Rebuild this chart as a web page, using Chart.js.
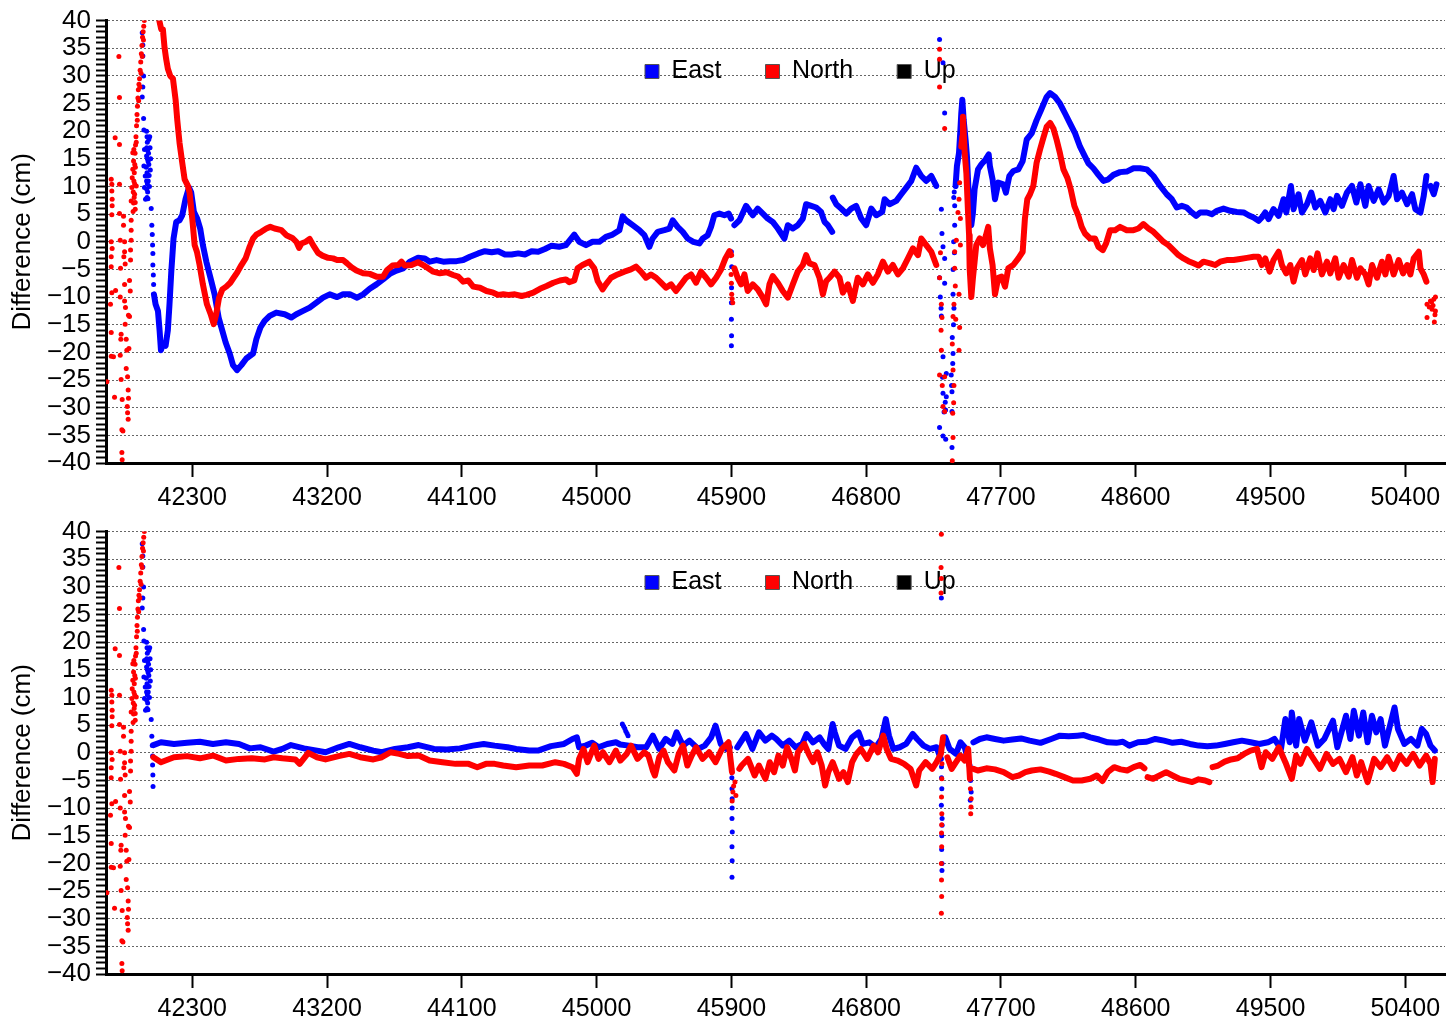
<!DOCTYPE html>
<html>
<head>
<meta charset="utf-8">
<script src="https://cdn.jsdelivr.net/npm/chart.js@4.4.0/dist/chart.umd.min.js"></script>
<style>
  html, body { margin: 0; padding: 0; background: #fff; }
  .panel { position: absolute; left: 0; width: 1449px; height: 511px; }
</style>
</head>
<body>
<div class="panel" style="top:0"><canvas id="topChart" width="1449" height="511"></canvas></div>
<div class="panel" style="top:511px"><canvas id="bottomChart" width="1449" height="511"></canvas></div>
<script>
// axis ticks
var xTicks = [42300, 43200, 44100, 45000, 45900, 46800, 47700, 48600, 49500, 50400];
var yTicks = [];
for (var v = -40; v <= 40; v++) yTicks.push(v);
var seriesNames = ['East', 'North', 'Up'];

// ---- start-up epochs, same in both panels ----
var earlyNorthDots = [[41730,-25.3],[41754,-11.3],[41759,11.3],[41763,10.4],[41763,9.2],[41765,7.7],[41765,6.5],[41763,4.9],[41759,0],[41765,-1.2],[41759,-2.7],[41759,-4.5],[41763,-9.2],[41759,-16.4],[41759,-20.7],[41774,-20.8],[41781,-28.1],[41785,18.8],[41788,-8.8],[41810,33.5],[41814,26.1],[41814,17.6],[41814,10.4],[41814,5.1],[41819,0.3],[41821,-4.8],[41819,-10],[41825,-16.7],[41823,-17.6],[41819,-20.5],[41825,-24.9],[41832,-28.5],[41830,-34],[41837,-34.2],[41830,-38.1],[41832,-39.4],[41841,4.6],[41841,3],[41848,0],[41848,-1.8],[41843,-2.7],[41852,-4],[41848,-7.7],[41848,-10.7],[41854,-11.9],[41852,-14.9],[41859,-17.6],[41863,-19.6],[41859,-22.9],[41868,-24.4],[41866,-29.8],[41868,-30.9],[41872,-26.8],[41872,-32.1],[41874,-28.3],[41874,-13.3],[41877,-19.3],[41881,-13.5],[41881,-7],[41886,-8.9],[41888,-3.3],[41888,-1.5],[41892,0.3],[41892,2.1],[41892,3.9],[41892,7.4],[41897,9.8],[41899,11.6],[41903,13.1],[41908,14.6],[41903,16.1],[41910,16.7],[41915,8.6],[41919,5.9],[41919,7.1],[41926,10.1]];
var earlyNorthRise = [[41905,5.5],[41908,7],[41906,9],[41910,11],[41913,12.5],[41916,14],[41918,16],[41921,17.5],[41924,19],[41928,21],[41931,23],[41934,24.5],[41937,26],[41940,27.5],[41944,28.5],[41948,29.5],[41952,31],[41956,32.5],[41960,34],[41964,35.5],[41968,37],[41972,38],[41976,39],[41980,40],[41912,8],[41915,10.5],[41920,13.5],[41926,18],[41933,22],[41942,25.5],[41950,28],[41958,30.5],[41966,33.5],[41974,36.5]];
var earlyEastDots = [[41966,37.8],[41970,35.6],[41970,33.6],[41975,30],[41970,28],[41966,26.2],[41975,22.3],[41977,20.2],[41981,16.7],[41977,13.7],[41986,11.9],[41981,9.8],[41988,7.7],[41995,20],[41998,19],[42000,18],[41996,17],[42002,16.5],[41995,15.5],[42000,15],[42005,14.5],[41993,13.5],[41998,12.5],[42003,12],[41995,11],[42000,10.5],[41996,9.5],[42002,9],[41998,8],[42004,7.8],[42008,16],[42010,14],[42012,12],[42014,10],[42016,19],[42018,17],[42006,11],[42010,18.5],[42020,13],[42022,15],[42026,6],[42030,3],[42033,1.3],[42035,-0.6]];

// ---- top panel ----
var topEastDrop = [[42037,-2.1],[42037,-4.2],[42040,-6],[42042,-7.7]];
var topEastA = [[42044,-9.5],[42055,-11.3],[42071,-12.5],[42082,-16.1],[42091,-19.6],[42104,-18.5],[42122,-18.8],[42137,-16],[42148,-11.3],[42160,-5.4],[42175,0.6],[42193,3.6],[42215,3.9],[42233,4.8],[42255,7.7],[42278,9.8],[42293,8.9],[42311,5.4],[42333,4.2],[42353,2.4],[42371,-0.6],[42394,-3.6],[42427,-7.1],[42449,-9.5],[42476,-13.7],[42501,-16.1],[42523,-18.2],[42550,-20.2],[42572,-22.3],[42599,-23.2],[42628,-22.3],[42661,-21.1],[42706,-20.2],[42728,-17.6],[42755,-15.5],[42783,-14.3],[42817,-13.4],[42861,-12.8],[42917,-13.1],[42962,-13.7],[42995,-13.1],[43040,-12.5],[43084,-11.9],[43129,-11],[43173,-10.1],[43218,-9.5],[43267,-10],[43307,-9.5],[43352,-9.5],[43401,-10.1],[43441,-9.5],[43485,-8.5],[43530,-7.7],[43574,-6.8],[43619,-5.8],[43664,-5.2],[43708,-4.8],[43753,-3.6],[43808,-2.9],[43853,-3],[43886,-3.6],[43931,-3.3],[43976,-3.6],[44020,-3.5],[44065,-3.5],[44109,-3.3],[44154,-2.7],[44209,-2.1],[44254,-1.7],[44299,-1.9],[44343,-1.7],[44388,-2.3],[44432,-2.3],[44477,-2.1],[44521,-2.3],[44566,-1.7],[44610,-1.8],[44655,-1.3],[44700,-0.7],[44750,-0.9],[44795,-0.6],[44851,1.3],[44884,0],[44929,-0.6],[44973,0],[45018,0],[45062,0.9],[45107,1.3],[45152,2.1],[45174,4.6],[45196,3.9],[45241,3],[45285,2.1],[45319,1.2],[45352,-0.9],[45374,0.6],[45408,1.8],[45452,2.1],[45486,2.4],[45508,3.9],[45541,2.7],[45575,1.8],[45608,0.6],[45646,0],[45686,-0.3],[45709,0.6],[45742,1.2],[45764,2.7],[45786,4.8],[45820,5.1],[45853,4.8],[45882,5.1],[45898,4.2]];
var topEastSpike = [[45900,-1.8],[45902,-4.5],[45901,-8.3],[45900,-11],[45900,-14],[45901,-17],[45900,-18.8]];
var topEastB = [[45920,3],[45954,3.9],[45998,6.5],[46043,4.8],[46076,6],[46110,5.1],[46143,4.2],[46176,3.6],[46210,2.4],[46254,0.6],[46277,3],[46310,2.4],[46343,3],[46377,4.2],[46399,6.8],[46433,6.5],[46466,6.2],[46499,5.4],[46522,3.6],[46544,3],[46573,1.8]];
var topEastC = [[46577,8],[46600,6.8],[46633,6],[46667,5.1],[46700,6],[46733,6.5],[46767,4.2],[46800,3],[46834,6],[46867,4.8],[46907,5.4],[46923,7.7],[46956,6.8],[47001,7.4],[47034,8.6],[47068,9.8],[47101,11],[47134,13.4],[47168,11.9],[47201,11],[47235,11.9],[47268,10.1]];
var topEastEvent = [[47290,36.6],[47313,32.4],[47324,23.3],[47302,5.9],[47306,1.5],[47313,-0.9],[47324,-3],[47290,-6.5],[47324,-7.5],[47302,-13.4],[47313,-20.8],[47335,-23.8],[47313,-27.4],[47324,-30.7],[47290,-33.6],[47313,-35.1],[47331,-35.7],[47373,-37.2],[47368,-24.1],[47373,-27.1],[47373,-30.7],[47380,-20.2],[47375,-17.3],[47380,-9.5],[47380,-5],[47384,0],[47391,3],[47391,6.5],[47328,-29],[47320,-30.8],[47335,-28],[47370,-26],[47378,-22],[47383,-15],[47386,-12],[47389,-2],[47295,-10],[47300,-12],[47310,-24.5],[47330,-30.4],[47385,8],[47388,9]];
var topEastD = [[47397,10.1],[47406,13.7],[47420,16.1],[47429,20.2],[47435,23.2],[47442,25.7],[47451,22],[47464,18.4],[47473,15.4],[47480,11.3],[47491,5.3],[47502,3],[47513,5.3],[47524,9.5],[47547,13.1],[47569,14],[47598,14.9],[47618,15.8],[47626,13.7],[47644,11.3],[47660,7.7],[47682,10.7],[47716,10.4],[47733,8.9],[47756,11.9],[47782,12.8],[47816,13.1],[47845,14.6],[47872,18.5],[47905,19.6],[47938,22],[47967,23.8],[48005,26.2],[48028,26.9],[48061,26.2],[48094,25],[48128,23.2],[48161,21.4],[48195,19.6],[48228,17.2],[48261,15.4],[48284,14.2],[48317,13.3],[48351,12.1],[48384,11],[48417,11.3],[48451,12.1],[48495,12.6],[48540,12.7],[48585,13.3],[48629,13.3],[48674,13.1],[48718,11.9],[48763,10.1],[48807,8.6],[48841,7.7],[48874,6.2],[48908,6.5],[48941,6.2],[48974,5.3],[49003,4.7],[49030,5.3],[49075,5.3],[49108,5],[49142,5.6],[49186,6],[49231,5.6],[49275,5.4],[49320,5.3],[49353,4.8],[49387,4.4],[49420,3.8],[49442,4.4],[49465,5.3],[49487,4.1],[49520,5.9],[49554,4.7],[49587,7.7],[49605,5.3],[49636,10.1],[49654,5.9],[49687,8.6],[49710,5.3],[49743,6.8],[49772,8.9],[49799,6.2],[49832,7.4],[49866,5.3],[49899,7.7],[49921,5.9],[49944,8.3],[49977,6.5],[50010,8.9],[50044,10.1],[50073,7.1],[50100,10.4],[50133,6.5],[50155,10.1],[50189,7.4],[50222,9.5],[50256,7.1],[50289,8.3],[50322,11.9],[50345,7.7],[50378,8.9],[50412,6.8],[50445,8.6],[50467,5.9],[50501,5.3],[50523,8.3],[50541,11.9]];
var topEastTail = [[50568,10.1],[50590,8.6],[50608,10.4]];

var topNorthA = [[42080,40],[42093,38.4],[42104,38.4],[42115,35.1],[42126,33],[42137,31.3],[42153,30],[42171,29.5],[42189,25.6],[42200,22],[42215,17.9],[42233,14.3],[42249,11.3],[42271,10.1],[42282,8.9],[42300,4.2],[42316,-0.6],[42331,-1.8],[42349,-4.2],[42371,-7.7],[42398,-11.3],[42423,-13.1],[42443,-14.9],[42460,-13.1],[42478,-10.2],[42501,-8.6],[42527,-8.1],[42554,-7.4],[42576,-6.5],[42599,-5.6],[42628,-4.2],[42656,-3],[42683,-0.9],[42706,0.6],[42728,1.3],[42761,1.8],[42795,2.4],[42821,2.7],[42850,2.4],[42895,2.1],[42928,1.2],[42968,0.7],[42995,0],[43013,-1.1],[43029,-0.3],[43058,0],[43084,0.5],[43107,-0.6],[43140,-2],[43169,-2.5],[43207,-2.9],[43240,-3],[43267,-3.3],[43307,-3.3],[43334,-3.9],[43363,-4.6],[43396,-5.2],[43441,-5.7],[43485,-5.8],[43530,-6.3],[43574,-6.3],[43601,-5.1],[43637,-4.3],[43675,-4.2],[43697,-3.6],[43719,-4.3],[43764,-4.2],[43808,-3.7],[43842,-4.2],[43875,-4.8],[43909,-5.4],[43953,-5.7],[43998,-5.5],[44042,-6],[44076,-6.3],[44109,-7.2],[44143,-7],[44176,-8.1],[44221,-8.3],[44265,-8.9],[44310,-9.2],[44343,-9.6],[44377,-9.5],[44410,-9.6],[44454,-9.5],[44499,-9.8],[44532,-9.6],[44577,-9.2],[44622,-8.5],[44666,-8],[44711,-7.4],[44755,-7],[44795,-6.8],[44817,-7.3],[44851,-7],[44873,-4.8],[44906,-4.2],[44951,-3.6],[44984,-4.8],[45007,-7.1],[45040,-8.6],[45062,-7.7],[45096,-6.5],[45140,-5.9],[45185,-5.4],[45229,-5],[45263,-4.5],[45296,-5.4],[45330,-6.5],[45363,-5.9],[45397,-6.5],[45430,-7.4],[45463,-8.3],[45497,-7.7],[45530,-8.9],[45564,-7.7],[45597,-6.5],[45631,-5.9],[45664,-7.4],[45697,-5.4],[45731,-6.5],[45764,-7.7],[45798,-6.5],[45831,-5],[45860,-3],[45887,-1.7],[45898,-2.4]];
var topNorthSpike = [[45898,-5.9],[45902,-9.5],[45909,-11],[45900,-7.5],[45905,-10.3]];
var topNorthB = [[45920,-4.8],[45942,-6.5],[45965,-7.7],[45987,-5.9],[46009,-8.9],[46043,-7.7],[46076,-8.6],[46110,-10.1],[46132,-11.3],[46154,-7.7],[46176,-6.2],[46210,-7.4],[46243,-8.9],[46277,-10.1],[46310,-7.7],[46343,-5.4],[46377,-4.2],[46399,-2.4],[46421,-3.9],[46455,-4.2],[46488,-6.5],[46511,-9.5],[46533,-7.1],[46555,-6.5],[46589,-5.4],[46622,-6.5],[46644,-9.2],[46678,-7.7],[46711,-10.7],[46744,-6.5],[46778,-7.7],[46811,-5.9],[46845,-7.4],[46878,-5.9],[46912,-3.6],[46945,-5.4],[46978,-4.2],[47012,-5.9],[47045,-4.8],[47079,-3],[47112,-1.2],[47146,-2.4],[47168,0.6],[47201,-0.6],[47235,-1.8],[47268,-4.2]];
var topNorthEvent = [[47290,34.8],[47290,33],[47290,28],[47324,20.5],[47290,-6.5],[47302,-11.3],[47306,-13.7],[47302,-19.6],[47290,-24.1],[47324,-24.4],[47313,-29.8],[47324,-30.7],[47380,-23.2],[47384,-29.1],[47380,-35.4],[47375,-39.6],[47375,-18.5],[47380,-13.5],[47386,-11.3],[47391,-4.8],[47391,-1.8],[47402,0.3],[47413,5.3],[47420,7.7],[47424,10.7],[47429,4.2],[47429,-0.6],[47420,-9.5],[47424,-15.5],[47420,-19.6],[47296,-2],[47300,-16],[47308,-26],[47386,-26],[47378,-31],[47395,-8],[47398,-14]];
var topNorthC = [[47435,17.2],[47442,19],[47446,22.6],[47458,16],[47469,12.4],[47480,5.3],[47487,1.2],[47491,-4.8],[47502,-10],[47513,-6.5],[47524,-3.6],[47535,-0.6],[47558,0.6],[47580,-0.6],[47600,1.2],[47615,2.7],[47626,-1.2],[47644,-4.2],[47660,-9.5],[47682,-6.5],[47704,-6.3],[47727,-8.1],[47749,-4.8],[47782,-4.2],[47816,-3],[47845,-1.8],[47860,4.2],[47876,7.7],[47894,8.6],[47916,10.1],[47938,14.3],[47961,16.7],[47983,18.8],[48005,20.8],[48028,21.5],[48050,20.5],[48072,18.4],[48094,16],[48117,13.1],[48143,11.6],[48166,9.5],[48190,6.5],[48217,4.7],[48239,2.7],[48261,1.5],[48295,0.6],[48328,0.6],[48351,-0.9],[48380,-1.5],[48402,-0.3],[48429,2.1],[48462,2.1],[48495,2.7],[48540,2.1],[48585,2.1],[48618,2.4],[48651,3.2],[48685,2.4],[48718,1.8],[48752,0.9],[48785,0],[48818,-0.6],[48852,-1.5],[48885,-2.4],[48919,-3],[48952,-3.5],[48986,-3.9],[49019,-4.3],[49052,-3.6],[49097,-3.9],[49130,-4.2],[49164,-3.6],[49208,-3.3],[49253,-3.3],[49297,-3.1],[49342,-2.9],[49387,-2.7],[49420,-2.7],[49442,-4.2],[49465,-3],[49494,-5.4],[49520,-3.3],[49554,-1.8],[49576,-4.2],[49605,-5.7],[49632,-4.2],[49654,-7.2],[49676,-4.8],[49710,-3.3],[49732,-5.9],[49765,-3],[49788,-5.1],[49814,-2.1],[49843,-5.9],[49877,-3.6],[49899,-5.7],[49932,-3],[49955,-6.5],[49988,-4.2],[50022,-6.3],[50044,-3.3],[50077,-6.5],[50100,-4.8],[50133,-5.9],[50155,-7.7],[50178,-4.2],[50211,-6.5],[50244,-3.6],[50267,-5.9],[50289,-2.7],[50322,-5.9],[50356,-3.3],[50385,-5.7],[50412,-4.2],[50434,-5.9],[50456,-3],[50490,-1.8],[50501,-4.8],[50523,-5.9],[50541,-7.2]];
var topNorthTail = [[50545,-11.3],[50568,-10.7],[50590,-10.4],[50601,-10],[50545,-13.7],[50579,-12.2],[50594,-14.5],[50601,-12.5],[50560,-11.8],[50585,-11.5],[50598,-13.2],[50575,-10.9]];

// ---- bottom panel ----
var bottomEastDrop = [[42035,-2.2],[42037,-4],[42038,-6.1]];
var bottomEastA = [[42040,1.4],[42091,1.9],[42178,1.6],[42265,1.8],[42351,2],[42438,1.6],[42525,1.9],[42612,1.6],[42684,0.8],[42756,1],[42843,0.2],[42901,0.7],[42959,1.4],[43046,0.8],[43133,0.4],[43190,0.1],[43277,1],[43349,1.6],[43422,1],[43509,0.4],[43566,0.1],[43653,0.7],[43740,1],[43812,1.4],[43914,0.7],[44000,0.6],[44087,0.8],[44174,1.3],[44246,1.6],[44319,1.3],[44405,1],[44463,0.7],[44550,0.4],[44608,0.4],[44695,1.2],[44782,1.6],[44839,2.5],[44868,2.8],[44883,1],[44926,1.3],[44970,1.8],[45013,1],[45071,1.6],[45129,1.9],[45158,1.5],[45215,1.3],[45273,1],[45331,1],[45375,3.1],[45418,0.7],[45461,2.5],[45505,1.6],[45534,3.7],[45577,1.3],[45620,2.2],[45678,0.7],[45722,1.3],[45765,2.8],[45794,4.9],[45829,1.6],[45866,0.7],[45890,1]];
var bottomEastBlip = [[45172,5.2],[45180,4.8],[45188,4.4],[45195,3.9],[45203,3.5],[45210,3.1]];
var bottomEastSpike = [[45902,-2.9],[45903,-4.5],[45904,-6.5],[45905,-8.3],[45905,-10],[45904,-11.9],[45906,-14.3],[45904,-17],[45905,-19.5],[45904,-22.5]];
var bottomEastB = [[45939,1],[45997,3.4],[46040,0.7],[46084,3.7],[46127,2.2],[46170,3.1],[46199,2.5],[46243,1.3],[46286,2.2],[46330,1],[46373,1.6],[46402,3.4],[46445,1.9],[46489,2.8],[46518,1.6],[46547,0.7],[46576,5.2],[46590,3.7],[46619,1.3],[46662,0.7],[46706,2.8],[46749,3.7],[46778,1.6],[46821,1.9],[46865,1],[46902,2.5],[46931,6.1],[46952,3.1],[46981,0.7],[47024,1],[47067,1.6],[47111,3.4],[47140,2.5],[47183,1.3],[47226,0.7],[47270,1],[47299,-1.1]];
var bottomEastEvent = [[47302,28],[47303,-2.5],[47303,-4.5],[47305,-6.5],[47302,-9.5],[47307,-11.9],[47307,-13.1],[47305,-15],[47304,-17.5],[47306,-20],[47306,-21.3],[47497,-5],[47501,-7.1],[47495,-8.6]];
var bottomEastC = [[47328,2.8],[47357,0.7],[47400,-0.2],[47429,1.9],[47458,1],[47493,-2.6]];
var bottomEastD = [[47516,1.9],[47559,2.5],[47603,2.8],[47660,2.5],[47718,2.2],[47776,2.4],[47834,2.6],[47892,2.2],[47964,1.8],[48036,2.5],[48094,3.1],[48152,3],[48210,3.1],[48253,3.2],[48297,2.8],[48355,2.4],[48413,1.9],[48470,1.8],[48514,2],[48557,1.3],[48615,1.9],[48673,2],[48731,2.5],[48789,2.2],[48846,1.8],[48904,2],[48962,1.6],[49020,1.3],[49078,1.2],[49136,1.3],[49194,1.6],[49251,1.9],[49309,2.2],[49367,1.9],[49425,1.6],[49483,1.9],[49526,2.5],[49570,0.7],[49599,6.1],[49628,1.9],[49642,7.3],[49671,1.3],[49691,6.1],[49729,2.2],[49772,5.5],[49816,1.3],[49859,2.5],[49917,5.8],[49946,1],[50004,6.7],[50033,2.5],[50056,7.6],[50090,3.1],[50119,7.3],[50148,1.9],[50177,6.7],[50206,3.7],[50235,6.1],[50264,1.3],[50328,8.2],[50351,4.3],[50394,1.6],[50438,2.5],[50481,1.3],[50510,4.3],[50539,3.4],[50568,1.3],[50597,0.4]];

var bottomNorthA = [[42040,-0.8],[42091,-1.7],[42178,-0.8],[42265,-0.6],[42351,-1],[42438,-0.5],[42525,-1.4],[42612,-1.1],[42698,-1],[42785,-1.2],[42843,-0.8],[42901,-1],[42988,-1.2],[43017,-2],[43075,0],[43133,-0.8],[43190,-1.2],[43277,-0.6],[43349,-0.2],[43422,-0.8],[43509,-1.2],[43566,-0.8],[43624,0.1],[43682,-0.2],[43740,-0.6],[43812,-0.5],[43885,-1.4],[43971,-1.7],[44058,-2],[44145,-2],[44203,-2.6],[44261,-2],[44319,-2],[44376,-2.3],[44463,-2.6],[44550,-2.3],[44637,-2.3],[44724,-1.7],[44782,-2],[44839,-2.6],[44868,-3.8],[44883,-1.1],[44912,0.7],[44940,-1.7],[44984,1.3],[45013,-1.1],[45042,0.1],[45085,-1.7],[45129,0.4],[45158,-1.4],[45201,-0.2],[45230,1.3],[45273,-1.1],[45317,0.1],[45346,-0.5],[45375,-3.2],[45389,-4.1],[45418,-0.8],[45447,0.4],[45476,-1.7],[45519,-3.2],[45548,-0.2],[45577,1.3],[45606,-2.3],[45635,-0.5],[45664,1],[45707,-1.1],[45751,0.1],[45794,-1.7],[45837,0.7],[45881,1.9],[45904,-3.5]];
var bottomNorthSpike = [[45905,-8.7],[45910,-7.1],[45915,-6],[45924,-5.3],[45930,-7.7]];
var bottomNorthB = [[45953,-2.9],[45968,-2.3],[46011,-1.1],[46055,-4.1],[46084,-2.3],[46127,-4.7],[46156,-1.7],[46185,-3.5],[46214,-0.5],[46243,-2.3],[46272,1],[46301,-1.1],[46324,-3.2],[46344,0.1],[46387,1.6],[46416,-0.2],[46445,-1.7],[46474,0.1],[46503,-2.3],[46526,-5.9],[46547,-3.5],[46576,-1.7],[46619,-4.7],[46648,-3.5],[46677,-5.3],[46706,-1.7],[46735,-0.2],[46764,0.7],[46807,-1.1],[46850,1.3],[46879,0.1],[46914,3.1],[46937,0.7],[46966,-1.1],[47009,-1.4],[47053,-2],[47096,-2.9],[47134,-5.9],[47154,-3.2],[47197,-1.7],[47241,-2.9],[47270,-1.7],[47299,-0.2],[47313,2.8]];
var bottomNorthEvent = [[47302,39.5],[47300,33.5],[47302,31.5],[47300,28.9],[47306,-2],[47305,-4.7],[47303,-8],[47305,-11],[47304,-13],[47303,-14.5],[47304,-17],[47302,-20],[47303,-23],[47304,-26],[47302,-29],[47496,-6.5],[47501,-8.3],[47500,-9.8],[47498,-11]];
var bottomNorthC = [[47342,-0.8],[47371,-2.9],[47400,-1.7],[47429,-0.5],[47458,-1.4],[47481,0.7],[47493,-4.7]];
var bottomNorthD = [[47516,-2.9],[47545,-3.2],[47603,-2.8],[47660,-3],[47718,-3.5],[47776,-4.4],[47820,-4.1],[47863,-3.5],[47906,-3.2],[47964,-3],[48022,-3.4],[48065,-3.8],[48123,-4.4],[48181,-5],[48239,-5],[48297,-4.7],[48340,-4.1],[48378,-5.1],[48413,-3.5],[48456,-2.6],[48499,-3],[48543,-3.2],[48586,-2.6],[48630,-2.2],[48658,-2.8]];
var bottomNorthE = [[48679,-4.4],[48716,-4.7],[48759,-4.1],[48803,-3.5],[48846,-4.1],[48890,-4.7],[48933,-5],[48977,-5.3],[49020,-4.8],[49063,-5],[49092,-5.3]];
var bottomNorthF = [[49113,-2.6],[49150,-2.3],[49194,-1.6],[49237,-1.2],[49280,-1],[49324,-0.2],[49367,0.4],[49410,0.7],[49440,-2.6],[49468,0.1],[49512,-1.1],[49555,1],[49599,-1.7],[49642,-4.7],[49671,-0.5],[49700,-2],[49743,0.7],[49787,-1.1],[49830,-2.9],[49874,-0.2],[49917,-2],[49960,-1.1],[50004,-3.5],[50047,-0.8],[50076,-4.1],[50105,-1.7],[50148,-5.3],[50192,-1.1],[50235,-2.6],[50279,-0.8],[50322,-2.9],[50365,-0.5],[50409,-2],[50452,-0.2],[50495,-2.3],[50539,-0.5],[50568,-2],[50582,-5.3],[50597,-1.1]];

var BLUE = 'rgb(0, 0, 255)';
var RED = 'rgb(255, 0, 0)';
var FONT = "'Liberation Sans', Arial, Helvetica, sans-serif";

function lineSet(arr, color) {
  return { data: arr, showLine: true, borderColor: color, backgroundColor: color, borderWidth: 6,
    pointRadius: 0, borderJoinStyle: 'round', borderCapStyle: 'round' };
}
function dotSet(arr, color) {
  return { data: arr, showLine: false, backgroundColor: color, borderWidth: 0, pointRadius: 2.5 };
}

// puts the legend inside the plot, top centre
var legendInside = {
  id: 'legendInside',
  afterLayout: function (chart) {
    var lg = chart.legend;
    lg.left = 601; lg.right = 1200;
    lg.top = 15; lg.bottom = 110;
    lg.width = lg.right - lg.left; lg.height = lg.bottom - lg.top;
  }
};

function makeChart(id, north, east) {
  var datasets = [
    { label: seriesNames[0], data: [], backgroundColor: BLUE, borderColor: '#555', borderWidth: 1 },
    { label: seriesNames[1], data: [], backgroundColor: RED, borderColor: '#555', borderWidth: 1 },
    { label: seriesNames[2], data: [], backgroundColor: '#000', borderColor: '#555', borderWidth: 1 }
  ];
  north.lines.forEach(function (a) { datasets.push(lineSet(a, RED)); });
  north.dots.forEach(function (a) { datasets.push(dotSet(a, RED)); });
  east.lines.forEach(function (a) { datasets.push(lineSet(a, BLUE)); });
  east.dots.forEach(function (a) { datasets.push(dotSet(a, BLUE)); });

  var ctx = document.getElementById(id).getContext('2d');
  return new Chart(ctx, {
    type: 'scatter',
    data: { datasets: datasets },
    plugins: [legendInside],
    options: {
      responsive: false,
      animation: false,
      layout: { padding: { top: 16, left: 0, right: 4, bottom: 0 } },
      plugins: {
        tooltip: { enabled: false },
        legend: {
          position: 'top',
          align: 'start',
          maxHeight: 1,
          labels: {
            boxWidth: 14, boxHeight: 14, padding: 44, color: '#000',
            font: { family: FONT, size: 25 },
            filter: function (item) { return item.datasetIndex < 3; }
          }
        }
      },
      scales: {
        x: {
          type: 'linear', min: 41724, max: 50665,
          afterBuildTicks: function (s) { s.ticks = xTicks.map(function (t) { return { value: t }; }); },
          afterFit: function (s) { s.height = 48; },
          ticks: { color: '#000', padding: 6, maxRotation: 0, autoSkip: false,
            font: { family: FONT, size: 25 },
            callback: function (val) { return String(val); } },
          grid: { drawOnChartArea: false, tickLength: 14, tickColor: '#000', tickWidth: 2 },
          border: { display: true, color: '#000', width: 3 }
        },
        y: {
          type: 'linear', min: -40, max: 40,
          afterBuildTicks: function (s) { s.ticks = yTicks.map(function (t) { return { value: t }; }); },
          afterFit: function (s) { s.width = 106; },
          ticks: { color: '#000', padding: 5, autoSkip: false,
            font: { family: FONT, size: 26 },
            callback: function (val) {
              if (val % 5 !== 0) return '';
              return val < 0 ? '\u2212' + Math.abs(val) : String(val);
            } },
          grid: {
            color: function (c) { return c.tick && c.tick.value % 5 === 0 ? '#666' : 'rgba(0,0,0,0)'; },
            lineWidth: 1, tickLength: 10, tickColor: '#000', tickWidth: 2, tickBorderDash: []
          },
          border: { display: true, color: '#000', width: 3, dash: [2, 2] },
          title: { display: true, text: 'Difference (cm)', color: '#000',
            font: { family: FONT, size: 26 }, padding: { top: 7, bottom: 0 } }
        }
      }
    }
  });
}

makeChart('topChart',
  { lines: [topNorthA, topNorthB, topNorthC],
    dots: [earlyNorthDots, earlyNorthRise, topNorthSpike, topNorthEvent, topNorthTail] },
  { lines: [topEastA, topEastB, topEastC, topEastD, topEastTail],
    dots: [earlyEastDots, topEastDrop, topEastSpike, topEastEvent] });

makeChart('bottomChart',
  { lines: [bottomNorthA, bottomNorthB, bottomNorthC, bottomNorthD, bottomNorthE, bottomNorthF],
    dots: [earlyNorthDots, earlyNorthRise, bottomNorthSpike, bottomNorthEvent] },
  { lines: [bottomEastA, bottomEastB, bottomEastC, bottomEastD],
    dots: [earlyEastDots, bottomEastDrop, bottomEastBlip, bottomEastSpike, bottomEastEvent] });
</script>
</body>
</html>
